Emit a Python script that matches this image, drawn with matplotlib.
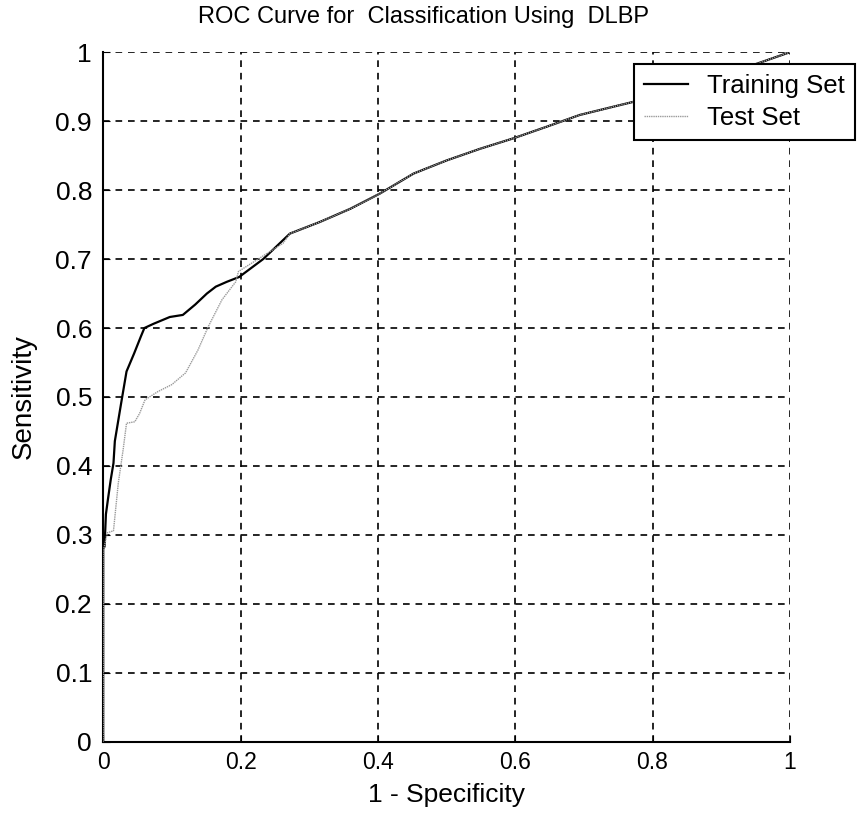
import matplotlib
matplotlib.use("Agg")
import matplotlib.pyplot as plt

# ROC points (1 - specificity, sensitivity)
train_fpr = [0.0, 0.0, 0.002, 0.004, 0.007, 0.011, 0.015, 0.017, 0.026, 0.034,
             0.045, 0.055, 0.060, 0.073, 0.097, 0.116, 0.134, 0.151, 0.164, 0.180,
             0.198, 0.233, 0.272, 0.316, 0.360, 0.403, 0.452, 0.500, 0.549, 0.597,
             0.646, 0.694, 0.743, 0.772, 0.850, 0.951, 1.0]
train_tpr = [0.0, 0.280, 0.283, 0.330, 0.352, 0.380, 0.404, 0.436, 0.490, 0.537,
             0.563, 0.588, 0.600, 0.606, 0.616, 0.619, 0.634, 0.650, 0.660, 0.667,
             0.674, 0.700, 0.737, 0.754, 0.773, 0.795, 0.824, 0.843, 0.860, 0.875,
             0.892, 0.909, 0.921, 0.928, 0.950, 0.983, 1.0]

test_fpr = [0.0, 0.001, 0.006, 0.015, 0.022, 0.029, 0.034, 0.046, 0.053, 0.061,
            0.080, 0.100, 0.120, 0.138, 0.153, 0.173, 0.193, 0.197, 0.232, 0.262,
            0.272, 0.316, 0.360, 0.403, 0.452, 0.500, 0.549, 0.597, 0.646, 0.694,
            0.743, 0.772, 0.850, 0.951, 1.0]
test_tpr = [0.0, 0.280, 0.303, 0.306, 0.375, 0.423, 0.462, 0.464, 0.476, 0.496,
            0.508, 0.518, 0.535, 0.568, 0.602, 0.641, 0.667, 0.682, 0.704, 0.723,
            0.737, 0.754, 0.773, 0.795, 0.824, 0.843, 0.860, 0.875, 0.892, 0.909,
            0.921, 0.928, 0.950, 0.983, 1.0]

ticks_x = [0, 0.2, 0.4, 0.6, 0.8, 1]
ticks_y = [0, 0.1, 0.2, 0.3, 0.4, 0.5, 0.6, 0.7, 0.8, 0.9, 1]

plt.rcParams['font.family'] = ['Liberation Sans', 'DejaVu Sans']

fig = plt.figure(figsize=(8.67, 8.16), dpi=100)
ax = fig.add_axes([0.119, 0.091, 0.792, 0.845])

ax.plot(train_fpr, train_tpr, color='black', linewidth=1.6, label='Training Set', zorder=3)
ax.plot(test_fpr, test_tpr, color='#9a9a9a', linewidth=1.0, linestyle=(0, (1, 0.6)),
        label='Test Set', zorder=3)

ax.set_xlim(0, 1)
ax.set_ylim(0, 1)
ax.set_xticks(ticks_x)
ax.set_xticklabels(['0', '0.2', '0.4', '0.6', '0.8', '1'])
ax.set_yticks(ticks_y)
ax.set_yticklabels(['0', '0.1', '0.2', '0.3', '0.4', '0.5', '0.6', '0.7', '0.8', '0.9', '1'])
ax.tick_params(direction='in', length=5, colors='black')
ax.tick_params(axis='x', labelsize=16.5, pad=7)
ax.tick_params(axis='y', labelsize=19, pad=8)

ax.grid(True, color='black', linestyle=(0, (4, 3.5)), linewidth=1.2)
for side in ['top', 'right']:
    ax.spines[side].set_visible(False)
for side in ['left', 'bottom']:
    ax.spines[side].set_linewidth(1.5)

ax.set_title('ROC Curve for  Classification Using  DLBP', fontsize=17,
             x=0.467, y=1.051, va='center', pad=0)
ax.set_xlabel('1 - Specificity', fontsize=19, va='center')
ax.xaxis.set_label_coords(0.5, -0.077)
ax.set_ylabel('Sensitivity', fontsize=20, va='center')
ax.yaxis.set_label_coords(-0.116, 0.5)

leg = ax.legend(loc='upper left', bbox_to_anchor=(0.773, 0.983), fontsize=18.5,
                frameon=True, fancybox=False, borderaxespad=0, handlelength=1.7,
                borderpad=0.4, labelspacing=0.3, handletextpad=0.75)
leg.get_frame().set_edgecolor('black')
leg.get_frame().set_linewidth(1.5)
leg.get_frame().set_alpha(1)

plt.savefig('out.png', dpi=100)
